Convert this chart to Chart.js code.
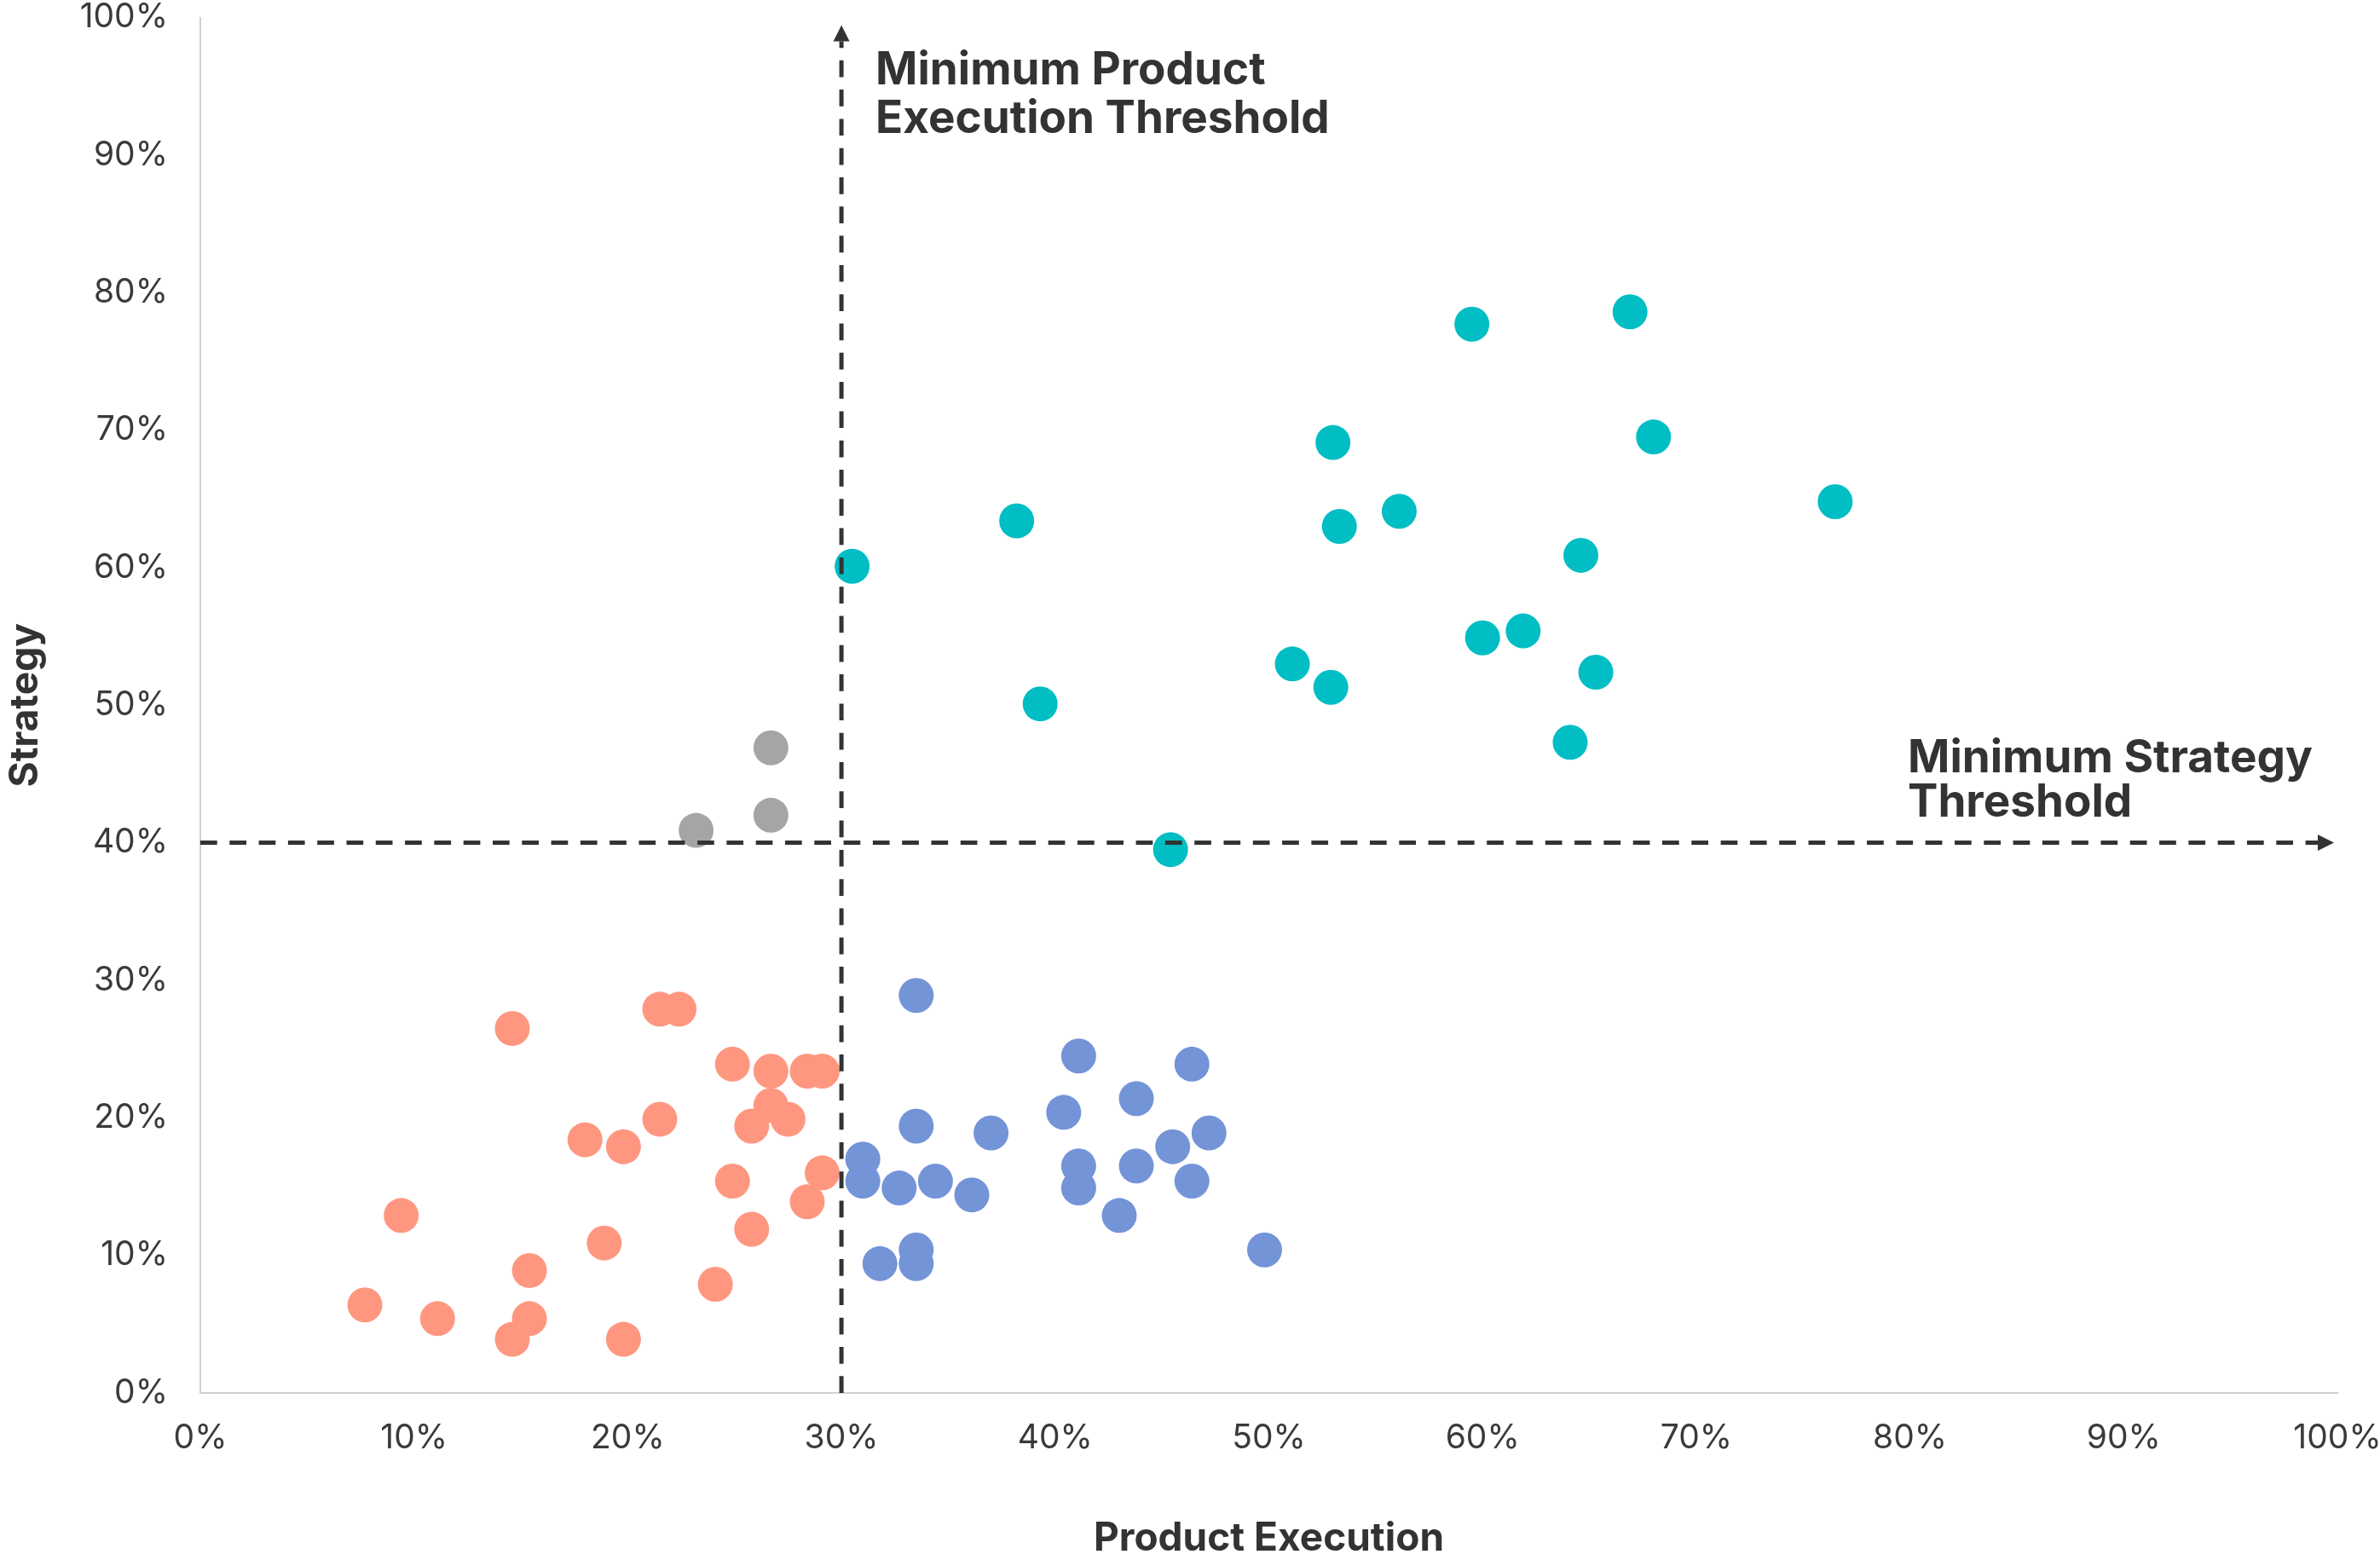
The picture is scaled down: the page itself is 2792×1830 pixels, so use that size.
<!DOCTYPE html>
<html>
<head>
<meta charset="utf-8">
<script src="https://cdn.jsdelivr.net/npm/chart.js@4/dist/chart.umd.min.js"></script>
<style>
  html, body { margin: 0; padding: 0; background: #ffffff; }
  #wrap { width: 2792px; height: 1830px; }
</style>
</head>
<body>
<div id="wrap"><canvas id="chart" width="2792" height="1830"></canvas></div>
<script>
// Axis ticks (percent)
const tickValues = [0, 10, 20, 30, 40, 50, 60, 70, 80, 90, 100];

// Threshold values (percent)
const productThreshold = 30;
const strategyThreshold = 40;

// Upper-right group (teal)
const leadersX = [30.5, 38.2, 39.3, 45.4, 51.1, 52.9, 53.0, 53.3, 56.1, 59.5, 60.0, 61.9, 64.1, 64.6, 65.3, 66.9, 68.0, 76.5];
const leadersY = [60.1, 63.4, 50.1, 39.5, 53.0, 51.3, 69.1, 63.0, 64.1, 77.7, 54.9, 55.4, 47.3, 60.9, 52.4, 78.6, 69.5, 64.8];

// Lower-right group (blue)
const executorsX = [33.5, 41.1, 46.4, 43.8, 40.4, 33.5, 37.0, 47.2, 45.5, 31.0, 41.1, 43.8, 31.0, 32.7, 34.4, 41.1, 46.4, 36.1, 43.0, 33.5, 49.8, 31.8, 33.5];
const executorsY = [28.9, 24.5, 23.9, 21.4, 20.4, 19.4, 18.9, 18.9, 17.9, 17.0, 16.5, 16.5, 15.4, 14.9, 15.4, 14.9, 15.4, 14.4, 12.9, 10.4, 10.4, 9.4, 9.4];

// Lower-left group (salmon)
const laggardsX = [14.6, 21.5, 22.4, 24.9, 26.7, 28.4, 29.1, 26.7, 21.5, 18.0, 19.8, 25.8, 27.5, 24.9, 29.1, 28.4, 9.4, 18.9, 25.8, 15.4, 24.1, 7.7, 11.1, 15.4, 14.6, 19.8];
const laggardsY = [26.5, 27.9, 27.9, 23.9, 23.4, 23.4, 23.4, 20.9, 19.9, 18.4, 17.9, 19.4, 19.9, 15.4, 16.0, 13.9, 12.9, 10.9, 11.9, 8.9, 7.9, 6.4, 5.4, 5.4, 3.9, 3.9];

// Upper-left group (grey)
const strategistsX = [23.2, 26.7, 26.7];
const strategistsY = [40.9, 46.9, 42.0];

// Text
const xTitle = 'Product Execution';
const yTitle = 'Strategy';
const productLabel = ['Minimum Product', 'Execution Threshold'];
const strategyLabel = ['Minimum Strategy', 'Threshold'];

const toPoints = (xs, ys) => xs.map((v, i) => ({ x: v, y: ys[i] }));

const INK = '#333333';
const TICK_INK = '#3a3a3a';
const AXIS_LINE = '#d0d0d0';

// Dashed threshold lines with arrowheads and their captions, drawn over the points
const thresholdPlugin = {
  id: 'thresholds',
  afterDatasetsDraw(chart) {
    const { ctx, chartArea, scales } = chart;
    const px = scales.x.getPixelForValue(productThreshold);
    const py = scales.y.getPixelForValue(strategyThreshold);
    const head = 19;

    ctx.save();
    ctx.strokeStyle = INK;
    ctx.fillStyle = INK;
    ctx.lineWidth = 5;
    ctx.lineCap = 'butt';
    ctx.setLineDash([19.7, 14.6]);

    const tipY = chartArea.top + 9;
    ctx.beginPath();
    ctx.moveTo(px, chartArea.bottom);
    ctx.lineTo(px, tipY + head);
    ctx.stroke();

    const tipX = chartArea.right - 4;
    ctx.beginPath();
    ctx.moveTo(chartArea.left, py);
    ctx.lineTo(tipX - head, py);
    ctx.stroke();

    ctx.setLineDash([]);
    ctx.beginPath();
    ctx.moveTo(px, tipY);
    ctx.lineTo(px - head / 2, tipY + head);
    ctx.lineTo(px + head / 2, tipY + head);
    ctx.closePath();
    ctx.fill();

    ctx.beginPath();
    ctx.moveTo(tipX, py);
    ctx.lineTo(tipX - head, py - head / 2);
    ctx.lineTo(tipX - head, py + head / 2);
    ctx.closePath();
    ctx.fill();

    ctx.font = 'bold 53px Inter';
    ctx.textAlign = 'left';
    ctx.textBaseline = 'alphabetic';
    productLabel.forEach((line, i) => ctx.fillText(line, px + 40, chartArea.top + 78 + i * 57));
    strategyLabel.forEach((line, i) => ctx.fillText(line, chartArea.right - 504, py - 83 + i * 52));
    ctx.restore();
  }
};

const pointStyle = (color) => ({
  backgroundColor: color,
  borderWidth: 0,
  pointRadius: 20.5,
  pointHoverRadius: 20.5
});

// Fixed axis box sizes; the tick-label overhang padding is dropped so the
// plot area is set only by the layout padding below.
const fixX = (scale) => {
  scale.height = 196;
  scale.paddingLeft = 0; scale.paddingRight = 0;
  scale.paddingTop = 0; scale.paddingBottom = 0;
};
const fixY = (scale) => {
  scale.width = 235;
  scale.paddingLeft = 0; scale.paddingRight = 0;
  scale.paddingTop = 0; scale.paddingBottom = 0;
};

new Chart(document.getElementById('chart'), {
  type: 'scatter',
  data: {
    datasets: [
      { label: 'Upper right', data: toPoints(leadersX, leadersY), ...pointStyle('#00bec4') },
      { label: 'Upper left', data: toPoints(strategistsX, strategistsY), ...pointStyle('#a5a5a5') },
      { label: 'Lower right', data: toPoints(executorsX, executorsY), ...pointStyle('#7494d8') },
      { label: 'Lower left', data: toPoints(laggardsX, laggardsY), ...pointStyle('#ff9780') }
    ]
  },
  options: {
    responsive: false,
    animation: false,
    devicePixelRatio: 1,
    layout: { padding: { top: 20, right: 50, bottom: 0, left: 0 } },
    plugins: {
      legend: { display: false },
      tooltip: { enabled: false }
    },
    scales: {
      x: {
        type: 'linear',
        min: 0,
        max: 100,
        afterBuildTicks: (scale) => { scale.ticks = tickValues.map(v => ({ value: v })); },
        afterFit: fixX,
        grid: { display: false, drawTicks: false },
        border: { display: true, color: AXIS_LINE, width: 2 },
        ticks: {
          color: TICK_INK,
          padding: 30,
          maxRotation: 0,
          font: { family: 'Inter', size: 39, lineHeight: 1.2 },
          callback: (v) => v + '%'
        },
        title: {
          display: true,
          text: xTitle,
          color: INK,
          padding: { top: 0, bottom: 2 },
          font: { family: 'Inter', size: 46, weight: 'bold', lineHeight: 1.0 }
        }
      },
      y: {
        type: 'linear',
        min: 0,
        max: 100,
        afterBuildTicks: (scale) => { scale.ticks = tickValues.map(v => ({ value: v })); },
        afterFit: fixY,
        grid: { display: false, drawTicks: false },
        border: { display: true, color: AXIS_LINE, width: 2 },
        ticks: {
          color: TICK_INK,
          padding: 38,
          font: { family: 'Inter', size: 39, lineHeight: 1.0 },
          callback: (v) => v + '%'
        },
        title: {
          display: true,
          text: yTitle,
          color: INK,
          padding: { top: 7, bottom: 0 },
          font: { family: 'Inter', size: 46, weight: 'bold', lineHeight: 1.0 }
        }
      }
    }
  },
  plugins: [thresholdPlugin]
});
</script>
</body>
</html>
